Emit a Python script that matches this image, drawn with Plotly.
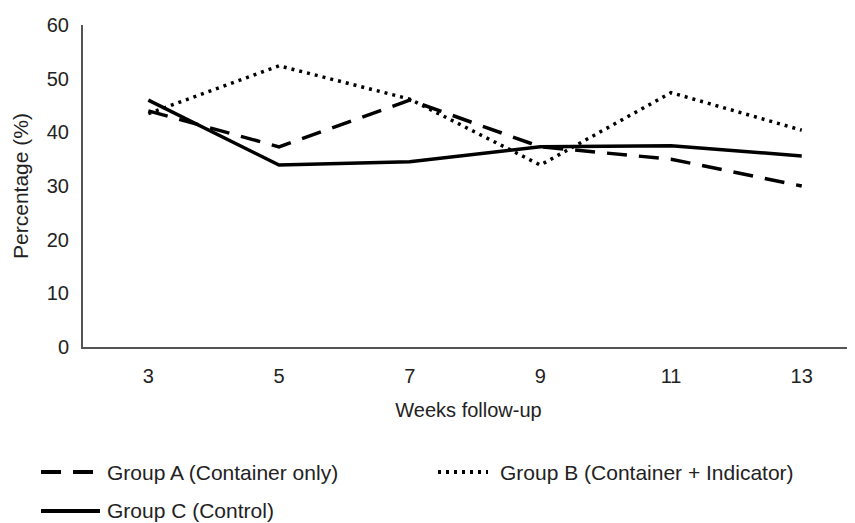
import plotly.graph_objects as go

weeks = ["3", "5", "7", "9", "11", "13"]
group_a = [44.0, 37.3, 46.0, 37.3, 35.0, 30.0]
group_b = [43.5, 52.4, 46.2, 33.9, 47.4, 40.4]
group_c = [46.0, 33.9, 34.5, 37.3, 37.5, 35.6]
names = ["Group A (Container only)", "Group B (Container + Indicator)", "Group C (Control)"]
y_ticks = [0, 10, 20, 30, 40, 50, 60]

# the page places the figure 8px from the top-left corner of the window
OFF = 8
W, H = 855 - OFF, 523 - OFF
ML, MR, MT, MB = 83 - OFF, 1, 25 - OFF, 523 - 347
FONT = "Liberation Sans, Arial, Helvetica, sans-serif"

DASH_A = "20px,12px"
DASH_B = "3px,5px"

fig = go.Figure()
fig.add_trace(go.Scatter(x=weeks, y=group_a, name=names[0], mode="lines",
                         line=dict(color="black", width=3.5, dash=DASH_A)))
fig.add_trace(go.Scatter(x=weeks, y=group_b, name=names[1], mode="lines",
                         line=dict(color="black", width=3.5, dash=DASH_B)))
fig.add_trace(go.Scatter(x=weeks, y=group_c, name=names[2], mode="lines",
                         line=dict(color="black", width=3.5)))

pw = W - ML - MR
ph = H - MT - MB


def px2x(px):
    return (px - OFF - ML) / pw


def px2y(py):
    return (H - MB - (py - OFF)) / ph


# manual legend (window pixel layout converted to paper coordinates)
legend_items = [
    (41, 93, 472, 105, DASH_A, names[0]),
    (438, 488, 472, 498, DASH_B, names[1]),
    (41, 100, 511, 105, "solid", names[2]),
]
shapes = []
annotations = []
for x0, x1, yy, tx, dash, label in legend_items:
    shapes.append(dict(type="line", xref="paper", yref="paper",
                       x0=px2x(x0), x1=px2x(x1), y0=px2y(yy), y1=px2y(yy),
                       line=dict(color="black", width=4, dash=dash)))
    annotations.append(dict(xref="paper", yref="paper", x=px2x(tx), y=px2y(yy),
                            xanchor="left", yanchor="middle", showarrow=False,
                            text=label, font=dict(family=FONT, size=21, color="#222")))

fig.update_layout(
    width=W, height=H,
    margin=dict(l=ML, r=MR, t=MT, b=MB, autoexpand=False),
    paper_bgcolor="white", plot_bgcolor="white",
    showlegend=False,
    font=dict(family=FONT, size=20, color="#222"),
    xaxis=dict(type="category", categoryorder="array", categoryarray=weeks,
               range=[-0.5, 5.4], showgrid=False, zeroline=False,
               showline=True, linecolor="#555", linewidth=2, ticks="",
               ticklabelstandoff=10,
               title=dict(text="Weeks follow-up", font=dict(size=20), standoff=17)),
    yaxis=dict(range=[0, 60], tickvals=y_ticks, showgrid=False, zeroline=False,
               showline=True, linecolor="#555", linewidth=2, ticks="",
               ticklabelstandoff=8,
               title=dict(text="Percentage (%)", font=dict(size=21), standoff=12)),
    shapes=shapes,
    annotations=annotations,
)

fig.write_html("out.html")
